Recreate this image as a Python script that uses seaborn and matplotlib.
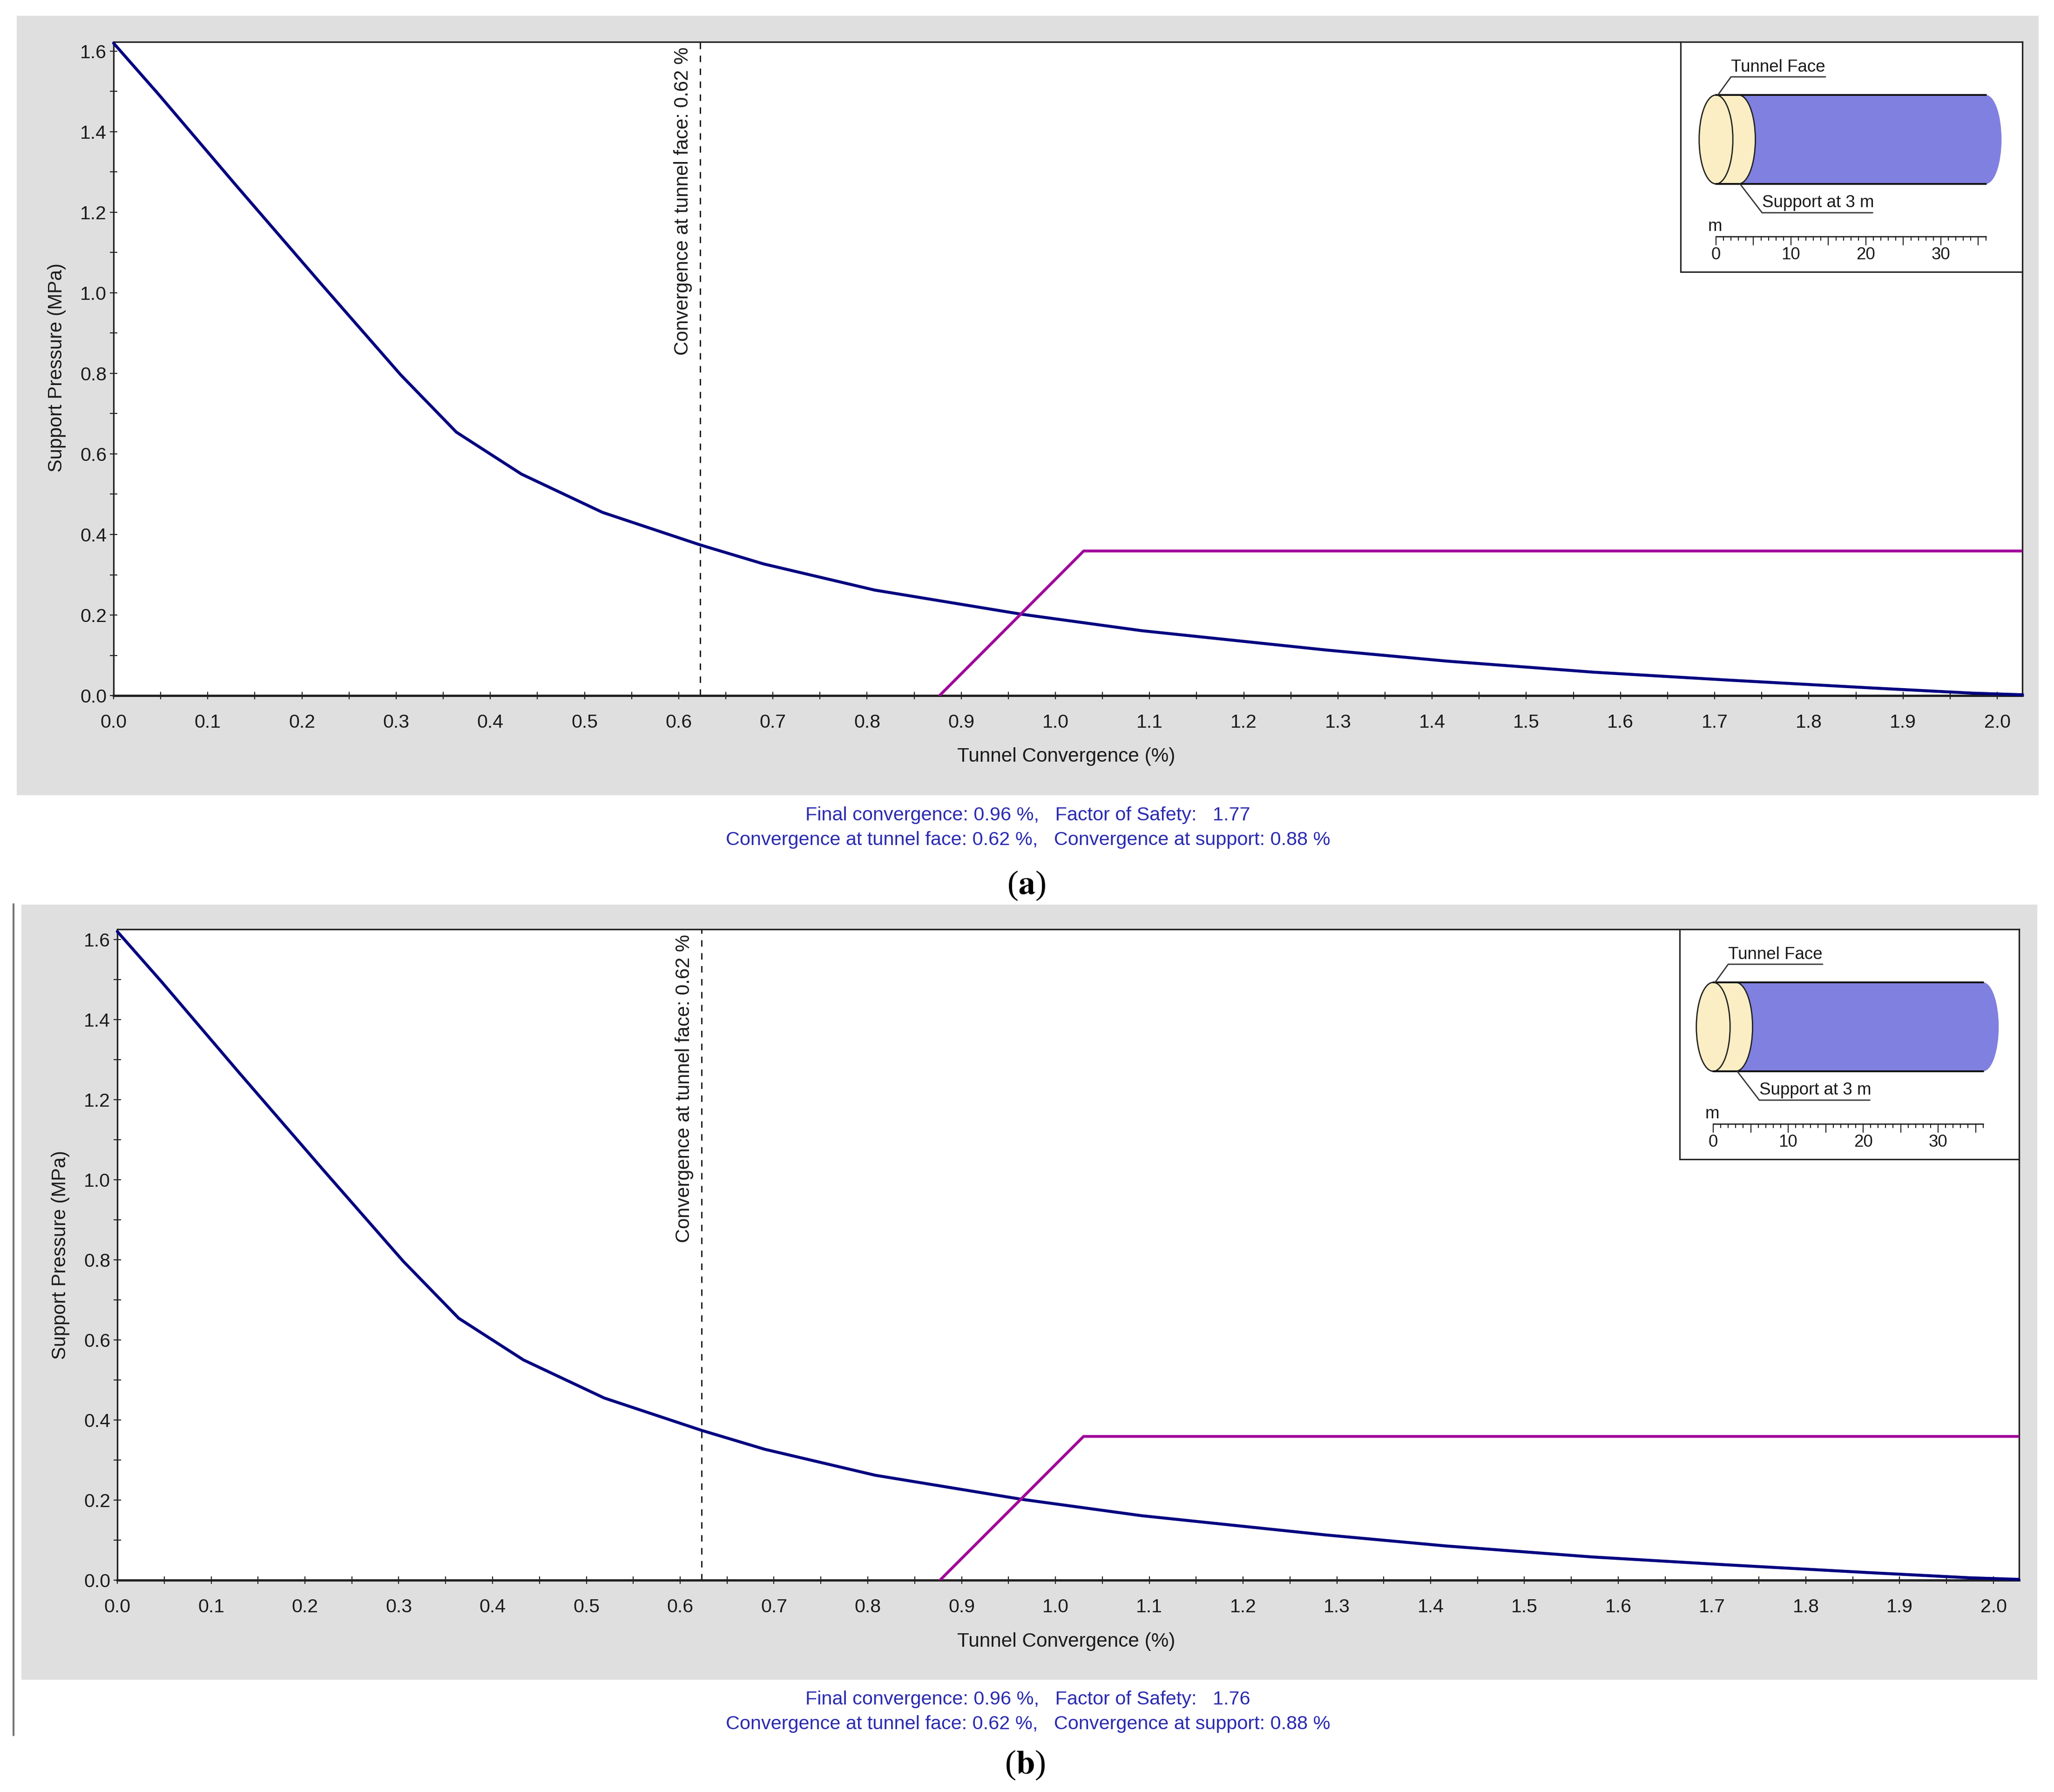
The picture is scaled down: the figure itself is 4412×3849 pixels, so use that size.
import matplotlib
matplotlib.use("Agg")
import matplotlib.pyplot as plt
from matplotlib.patches import Ellipse, Rectangle
from matplotlib.ticker import MultipleLocator
import pandas as pd
import seaborn as sns

W, H = 4412, 3849

# ground reaction curve
conv = [0.0, 0.047, 0.13, 0.219, 0.305, 0.364, 0.433, 0.519, 0.623, 0.69, 0.808, 0.964, 1.092,
        1.288, 1.416, 1.572, 1.714, 1.87, 1.974, 2.027]
pressure = [1.62, 1.495, 1.267, 1.026, 0.796, 0.654, 0.55, 0.455, 0.374, 0.327, 0.262, 0.202,
            0.161, 0.113, 0.0855, 0.058, 0.0385, 0.0185, 0.006, 0.002]

# support line
sup_conv = [0.877, 1.03, 2.03]
sup_press = [0.0, 0.359, 0.359]

face_conv = 0.623
x_major = [round(i * 0.1, 1) for i in range(21)]
y_major = [round(i * 0.2, 1) for i in range(9)]

summary_a = ["Final convergence: 0.96 %,   Factor of Safety:   1.77",
             "Convergence at tunnel face: 0.62 %,   Convergence at support: 0.88 %"]
summary_b = ["Final convergence: 0.96 %,   Factor of Safety:   1.76",
             "Convergence at tunnel face: 0.62 %,   Convergence at support: 0.88 %"]

scale_labels = [0, 10, 20, 30]
tunnel_len = 36
support_at = 3
radius = 5.93

GREY = "#dfdfdf"
BLUE = "#000080"
PURPLE = "#a0089a"
TXT = "#1a1a1a"
INFO = "#2a2ab0"

sns.set_theme(style="white")
plt.rcParams["font.family"] = ["Liberation Sans", "DejaVu Sans"]

fig = plt.figure(figsize=(W / 100, H / 100), dpi=100, facecolor="white")


def px_axes(left, top, right, bottom, **kw):
    return fig.add_axes([left / W, 1 - bottom / H, (right - left) / W, (bottom - top) / H], **kw)


def ftext(x, y, s, **kw):
    fig.text(x / W, 1 - y / H, s, **kw)


def draw_inset(left, top, right, bottom, x0):
    # inset drawn in metres, 16.1 px per metre
    k = 16.1
    cy = top + 209.5
    ax = px_axes(left, top, right, bottom, zorder=5)
    ax.set_xlim((left - x0) / k, (right - x0) / k)
    ax.set_ylim((cy - bottom) / k, (cy - top) / k)
    ax.set_xticks([])
    ax.set_yticks([])
    for s in ax.spines.values():
        s.set_linewidth(2.2)
        s.set_color("#222222")
    ew = 4.5
    ax.add_patch(Ellipse((tunnel_len, 0), ew * 0.93, 2 * radius, fc="#8080e0", ec="none"))
    ax.add_patch(Rectangle((0, -radius), tunnel_len, 2 * radius, fc="#8080e0", ec="none"))
    ax.add_patch(Ellipse((support_at, 0), ew, 2 * radius, fc="#fbeec4", ec="#222222", lw=2))
    ax.add_patch(Rectangle((0, -radius), support_at, 2 * radius, fc="#fbeec4", ec="none"))
    ax.add_patch(Ellipse((0, 0), ew, 2 * radius, fc="#fbeec4", ec="#222222", lw=2))
    ax.plot([0, tunnel_len], [radius, radius], color="#111111", lw=2.8)
    ax.plot([0, tunnel_len], [-radius, -radius], color="#111111", lw=2.8)
    # labels
    ax.plot([0.25, 2.0, 14.6], [radius, 8.35, 8.35], color="#333333", lw=2)
    ax.text(2.0, 9.05, "Tunnel Face", fontsize=26.5, color=TXT, va="baseline", ha="left")
    ax.plot([3.2, 6.15, 20.9], [-radius, -9.78, -9.78], color="#333333", lw=2)
    ax.text(6.15, -9.05, "Support at 3 m", fontsize=26.5, color=TXT, va="baseline", ha="left")
    ax.text(-1.1, -12.2, "m", fontsize=26.5, color=TXT, va="baseline", ha="left")
    # metre scale
    ax.plot([0, tunnel_len], [-12.95, -12.95], color="#222222", lw=2)
    for m in range(0, tunnel_len + 1):
        low = -14.07 if m % 5 == 0 else -13.45
        ax.plot([m, m], [-12.95, low], color="#222222", lw=1.6)
    for m in scale_labels:
        ax.text(m, -15.4, str(m), fontsize=26.5, color=TXT, ha="center", va="center")


def draw_panel(box, axes_box, xscale, yscale, inset_box, x0_inset, summary, ylab_x, label_ys, xlab_y, dash_lab_x):
    fig.add_artist(Rectangle((box[0] / W, 1 - box[3] / H), (box[2] - box[0]) / W, (box[3] - box[1]) / H,
                             transform=fig.transFigure, fc=GREY, ec="none", zorder=-5))
    left, top, right, bottom = axes_box
    ax = px_axes(left, top, right, bottom, facecolor="white")

    df = pd.DataFrame({"conv": conv, "pressure": pressure})
    sup = pd.DataFrame({"conv": sup_conv, "pressure": sup_press})
    sns.lineplot(data=df, x="conv", y="pressure", color=BLUE, lw=4.6, ax=ax, clip_on=False, zorder=3)
    sns.lineplot(data=sup, x="conv", y="pressure", color=PURPLE, lw=4.4, ax=ax, zorder=3)
    ax.axvline(face_conv, color="#111111", lw=2, ls=(0, (5, 5)))

    ax.set_xticks(x_major)
    ax.set_yticks(y_major)
    ax.set_xticklabels([f"{v:.1f}" for v in x_major])
    ax.set_yticklabels([f"{v:.1f}" for v in y_major])
    ax.xaxis.set_minor_locator(MultipleLocator(0.05))
    ax.yaxis.set_minor_locator(MultipleLocator(0.1))
    ax.set_xlim(0, (right - left) / xscale)
    ax.set_ylim(0, (bottom - top) / yscale)
    ax.tick_params(which="both", direction="inout", bottom=True, left=True, width=1.6, color="#222222")
    ax.tick_params(which="major", length=11.5, labelsize=29.5, labelcolor=TXT)
    ax.tick_params(which="minor", length=11.5)
    ax.tick_params(axis="x", which="major", pad=22)
    ax.tick_params(axis="y", which="major", pad=5)
    for s in ax.spines.values():
        s.set_linewidth(2.4)
        s.set_color("#222222")
    ax.spines["bottom"].set_linewidth(3.6)
    ax.set_xlabel("")
    ax.set_ylabel("")

    ftext(ylab_x, top + 700, "Support Pressure (MPa)", rotation=90,
          fontsize=30, color=TXT, ha="center", va="center")
    ftext((left + right) / 2 - 4, xlab_y, "Tunnel Convergence (%)", fontsize=30.4, color=TXT, ha="center", va="center")
    ftext(dash_lab_x, top + 342, "Convergence at tunnel face: 0.62 %", rotation=90,
          fontsize=30, color=TXT, ha="center", va="center")

    draw_inset(*inset_box, x0_inset)

    for y, s in zip(label_ys, summary):
        ftext(2208, y, s, fontsize=29.8, color=INFO, ha="center", va="center")
    return ax


draw_panel((36, 34, 4379, 1708), (244, 90, 4344, 1494), 2023.0, 865.0, (3610, 90, 4344, 584), 3686,
           summary_a, 122, (1751, 1804), 1625, 1467)
draw_panel((46, 1943, 4376, 3608), (252, 1996, 4337, 3394), 2015.0, 860.0, (3608, 1996, 4337, 2490), 3680,
           summary_b, 130, (3650, 3703), 3526, 1470)

# rule on the left of panel b
fig.add_artist(plt.Line2D([29 / W, 29 / W], [1 - 1942 / H, 1 - 3727 / H], color="#777777", lw=3,
                          transform=fig.transFigure))

ftext(2205, 1902, r"($\mathbf{a}$)", fontsize=52, color="black", family="Liberation Serif", ha="center", va="center",
      math_fontfamily="stix")
ftext(2202, 3791, r"($\mathbf{b}$)", fontsize=52, color="black", family="Liberation Serif", ha="center", va="center",
      math_fontfamily="stix")

fig.savefig("out.png", dpi=100)
